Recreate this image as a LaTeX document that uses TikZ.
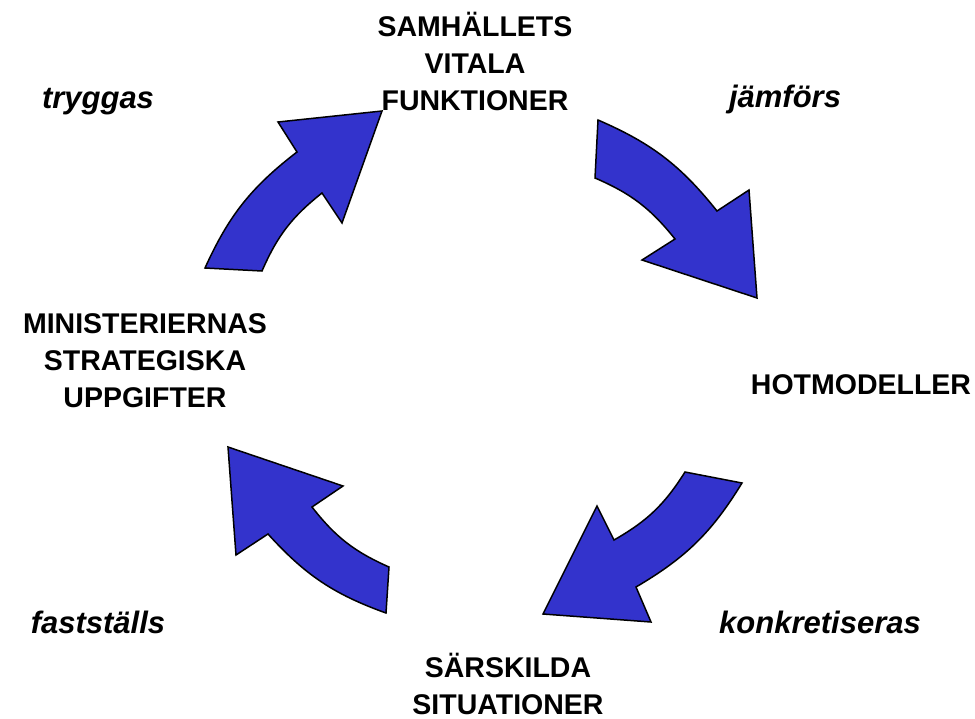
\documentclass[tikz,border=0pt]{standalone}
\usepackage{fontspec}
\setmainfont{Liberation Sans}
\definecolor{arrowblue}{RGB}{51,51,204}
\tikzset{
	stage/.style={font=\fontsize{28.5}{37}\selectfont\bfseries,align=center,inner sep=0pt},
	verb/.style={font=\fontsize{31}{36}\selectfont\bfseries\itshape,inner sep=0pt,anchor=base},
	bigarrow/.style={fill=arrowblue,draw=black,line width=1.5pt,line join=miter}
}

\begin{document}
\begin{tikzpicture}[x=1pt,y=-1pt]
	\useasboundingbox (0,0) rectangle (975,718);

	% stages of the cycle
	\node[stage] (vital) at (475,61) {SAMHÄLLETS\\VITALA\\FUNKTIONER};
	\node[stage] (hot) at (861,385) {HOTMODELLER};
	\node[stage] (sit) at (508,684) {SÄRSKILDA\\SITUATIONER};
	\node[stage] (min) at (145,361) {MINISTERIERNAS\\STRATEGISKA\\UPPGIFTER};

	% verbs
	\node[verb] (tryggas) at (98,108) {tryggas};
	\node[verb] (jamfors) at (785,107) {jämförs};
	\node[verb] (konkret) at (820,633) {konkretiseras};
	\node[verb] (faststalls) at (98,633) {fastställs};

	% block arrows
	\draw[bigarrow] (205,268) to[bend left=14] (297,152) -- (278,122) -- (382,111)
		-- (342,223) -- (322,193) to[bend right=14] (262,271) -- cycle;
	\draw[bigarrow] (598,120) to[bend left=14] (717,211) -- (749,190) -- (757,298)
		-- (642,260) -- (675,239) to[bend right=14] (595,178) -- cycle;
	\draw[bigarrow] (742,483) to[bend left=14] (636,587) -- (651,622) -- (543,614)
		-- (597,506) -- (614,540) to[bend right=14] (685,472) -- cycle;
	\draw[bigarrow] (228,447) -- (343,486) -- (312,507) to[bend right=14] (389,567)
		-- (386,613) to[bend left=14] (268,534) -- (236,555) -- cycle;
\end{tikzpicture}
\end{document}
